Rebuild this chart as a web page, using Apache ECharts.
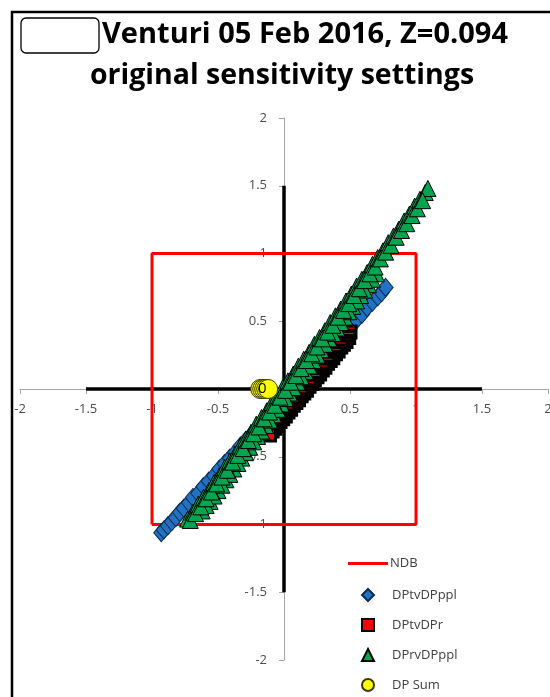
<!DOCTYPE html>
<html>
<head>
<meta charset="utf-8">
<title>Venturi 05 Feb 2016</title>
<script src="https://cdn.jsdelivr.net/npm/echarts@6/dist/echarts.min.js"></script>
<style>
  html, body { margin: 0; padding: 0; background: #fff; }
  #chart { width: 550px; height: 697px; }
</style>
</head>
<body>
<div id="chart"></div>
<script>
// NDB box and the black cross
const ndbX = [-1, 1, 1, -1, -1]
const ndbY = [-1, -1, 1, 1, -1]
const crossHX = [-1.5, 1.5]
const crossHY = [0, 0]
const crossVX = [0, 0]
const crossVY = [-1.5, 1.5]

// DPtvDPppl (blue diamonds)
const blueX = [-0.93, -0.91, -0.88, -0.85, -0.82, -0.79, -0.76, -0.72, -0.69, -0.65, -0.61, -0.57, -0.53, -0.49, -0.45, -0.41,
  -0.37, -0.33, -0.29, -0.25, -0.21, -0.17, -0.13, -0.09, -0.05, -0.01, 0.03, 0.07, 0.11, 0.15, 0.19, 0.23,
  0.27, 0.31, 0.35, 0.39, 0.43, 0.47, 0.51, 0.55, 0.59, 0.63, 0.67, 0.71, 0.74, 0.77]
const blueY = [-1.06, -1.04, -1.01, -0.98, -0.95, -0.91, -0.88, -0.84, -0.80, -0.77, -0.72, -0.68, -0.64, -0.59, -0.55, -0.51,
  -0.47, -0.42, -0.38, -0.34, -0.30, -0.25, -0.21, -0.17, -0.13, -0.08, -0.04, 0.00, 0.04, 0.09, 0.13, 0.17,
  0.21, 0.26, 0.30, 0.34, 0.38, 0.43, 0.47, 0.51, 0.55, 0.60, 0.64, 0.68, 0.71, 0.75]

// DPtvDPr (red squares), two runs
const redX = [0.50, 0.48, 0.46, 0.44, 0.42, 0.40, 0.38, 0.36, 0.34, 0.32, 0.30, 0.28, 0.26, 0.24, 0.22, 0.20,
  0.18, 0.16, 0.14, 0.12, 0.10, 0.08, 0.06, 0.04, 0.02, 0.00, -0.02, -0.04, -0.06, -0.08, -0.10, -0.12]
const redY = [0.42, 0.39, 0.37, 0.35, 0.32, 0.30, 0.28, 0.25, 0.23, 0.20, 0.18, 0.16, 0.13, 0.11, 0.09, 0.06,
  0.04, 0.01, -0.01, -0.03, -0.06, -0.08, -0.11, -0.13, -0.15, -0.18, -0.20, -0.23, -0.25, -0.27, -0.30, -0.32]
const redX2 = [0.49, 0.47, 0.45, 0.43, 0.41, 0.39, 0.37, 0.35, 0.33, 0.31, 0.29, 0.27, 0.25, 0.23, 0.21, 0.19,
  0.17, 0.15, 0.13, 0.11, 0.09, 0.07, 0.05, 0.03, 0.01, -0.01, -0.03, -0.05, -0.07, -0.09, -0.11]
const redY2 = [0.38, 0.35, 0.33, 0.31, 0.28, 0.26, 0.23, 0.21, 0.19, 0.16, 0.14, 0.11, 0.09, 0.07, 0.04, 0.02,
  -0.01, -0.03, -0.05, -0.08, -0.10, -0.12, -0.15, -0.17, -0.20, -0.22, -0.24, -0.27, -0.29, -0.31, -0.34]

// DPrvDPppl (green triangles), four runs
const greenX1 = [-0.62, -0.56, -0.50, -0.44, -0.38, -0.32, -0.26, -0.20, -0.14, -0.08, -0.02, 0.04, 0.10, 0.16, 0.22, 0.28,
  0.34, 0.40, 0.46, 0.52, 0.58, 0.64, 0.70]
const greenY1 = [-0.90, -0.83, -0.75, -0.67, -0.59, -0.51, -0.43, -0.35, -0.27, -0.19, -0.11, -0.03, 0.05, 0.13, 0.21, 0.29,
  0.37, 0.45, 0.53, 0.61, 0.69, 0.77, 0.85]
const greenX2 = [-0.59, -0.53, -0.47, -0.41, -0.35, -0.29, -0.23, -0.17, -0.11, -0.05, 0.01, 0.07, 0.13, 0.19, 0.25, 0.31,
  0.37, 0.43, 0.49, 0.55, 0.61, 0.67]
const greenY2 = [-0.86, -0.79, -0.71, -0.63, -0.55, -0.47, -0.39, -0.31, -0.23, -0.15, -0.07, 0.01, 0.09, 0.17, 0.25, 0.33,
  0.41, 0.49, 0.57, 0.65, 0.73, 0.81]
const greenX3 = [-0.73, -0.69, -0.65, -0.61, -0.57, -0.53, -0.49, -0.45, -0.41, -0.37, -0.33, -0.29, -0.25, -0.21, -0.17, -0.13,
  -0.09, -0.05, -0.01, 0.03, 0.07, 0.11, 0.15, 0.19, 0.23, 0.27, 0.31, 0.35, 0.39, 0.43, 0.47, 0.51,
  0.55, 0.59, 0.63, 0.67, 0.71, 0.75, 0.79, 0.83, 0.87, 0.91, 0.95, 0.99, 1.03, 1.07, 1.09]
const greenY3 = [-0.96, -0.91, -0.85, -0.80, -0.75, -0.69, -0.64, -0.58, -0.53, -0.48, -0.42, -0.37, -0.32, -0.26, -0.21, -0.16,
  -0.10, -0.05, 0.01, 0.06, 0.11, 0.17, 0.22, 0.27, 0.33, 0.38, 0.43, 0.49, 0.54, 0.59, 0.65, 0.70,
  0.76, 0.81, 0.86, 0.92, 0.97, 1.02, 1.08, 1.13, 1.18, 1.24, 1.29, 1.35, 1.40, 1.45, 1.48]
const greenX4 = [-0.71, -0.67, -0.63, -0.59, -0.55, -0.51, -0.47, -0.43, -0.39, -0.35, -0.31, -0.27, -0.23, -0.19, -0.15, -0.11,
  -0.07, -0.03, 0.01, 0.05, 0.09, 0.13, 0.17, 0.21, 0.25, 0.29, 0.33, 0.37, 0.41, 0.45, 0.49, 0.53,
  0.57, 0.61, 0.65, 0.69, 0.73, 0.77, 0.81, 0.85, 0.89, 0.93, 0.97, 1.01, 1.05]
const greenY4 = [-0.97, -0.92, -0.87, -0.81, -0.76, -0.70, -0.65, -0.60, -0.54, -0.49, -0.44, -0.38, -0.33, -0.28, -0.22, -0.17,
  -0.12, -0.06, -0.01, 0.05, 0.10, 0.15, 0.21, 0.26, 0.31, 0.37, 0.42, 0.47, 0.53, 0.58, 0.63, 0.69,
  0.74, 0.80, 0.85, 0.90, 0.96, 1.01, 1.06, 1.12, 1.17, 1.22, 1.28, 1.33, 1.39]

// DP Sum (yellow circles)
const sumX = [-0.18, -0.165, -0.15, -0.135, -0.12]
const sumY = [0, 0, 0, 0, 0]

const lineLegend = ['NDB']
const markerLegend = ['DPtvDPppl', 'DPtvDPr', 'DPrvDPppl', 'DP Sum']
const axisMin = -2
const axisMax = 2
const axisStep = 0.5

const pairs = (xs, ys) => xs.map((x, i) => [x, ys[i]])

// plot area (pixels)
const plot = { left: 20, right: 2, top: 118, bottom: 37 }
const plotW = 550 - plot.left - plot.right
const plotH = 697 - plot.top - plot.bottom

const chart = echarts.init(document.getElementById('chart'), null, { renderer: 'canvas' })

const axisCommon = {
  type: 'value',
  min: axisMin,
  max: axisMax,
  interval: axisStep,
  splitLine: { show: false },
  axisLine: { onZero: false, lineStyle: { color: '#a6a6a6', width: 1 } },
  axisTick: { length: 5, lineStyle: { color: '#a6a6a6' } },
  axisLabel: {
    color: '#4d4d4d',
    fontFamily: 'Open Sans',
    fontSize: 13,
    formatter: v => (v === 0 ? '' : String(v))
  }
}

const legendText = { color: '#404040', fontFamily: 'Open Sans', fontSize: 13, lineHeight: 12 }

const option = {
  animation: false,
  backgroundColor: '#fff',
  grid: Object.assign({ outerBoundsMode: 'none', containLabel: false }, plot),
  // axes crossing at 0: shift them into the middle of the plot
  xAxis: Object.assign({}, axisCommon, {
    position: 'bottom',
    offset: -plotH / 2,
    axisLabel: Object.assign({}, axisCommon.axisLabel, { margin: 14 })
  }),
  yAxis: Object.assign({}, axisCommon, {
    position: 'left',
    offset: -plotW / 2,
    axisLabel: Object.assign({}, axisCommon.axisLabel, { margin: 17 })
  }),
  legend: [
    {
      orient: 'vertical', left: 343, top: 552,
      itemWidth: 40, itemHeight: 3, icon: 'rect',
      data: lineLegend,
      textStyle: Object.assign({}, legendText, { padding: [0, 0, 0, -3] })
    },
    {
      orient: 'vertical', left: 361, top: 588, padding: 0, height: 120,
      itemWidth: 12, itemHeight: 12, itemGap: 16,
      data: markerLegend,
      textStyle: Object.assign({}, legendText, { padding: [0, 0, 0, 13] })
    }
  ],
  graphic: [
    // chart frame
    { type: 'rect', shape: { x: 12, y: 12, width: 560, height: 720 }, style: { fill: 'none', stroke: '#000', lineWidth: 2.5 }, z: 100 },
    // blank box in front of the title
    { type: 'rect', shape: { x: 21, y: 18, width: 78, height: 35, r: 5 }, style: { fill: '#fff', stroke: '#000', lineWidth: 1.3 }, z: 100 },
    { type: 'text', style: { x: 102, y: 35, text: 'Venturi 05 Feb 2016, Z=0.094', font: 'bold 29px "Open Sans"', fill: '#000', verticalAlign: 'middle' }, z: 100 },
    { type: 'text', style: { x: 282, y: 76, text: 'original sensitivity settings', font: 'bold 28.5px "Open Sans"', fill: '#000', align: 'center', verticalAlign: 'middle' }, z: 100 }
  ],
  series: [
    {
      name: 'cross-h', type: 'line', data: pairs(crossHX, crossHY), symbol: 'none',
      lineStyle: { color: '#000', width: 3.5 }, z: 1, silent: true
    },
    {
      name: 'cross-v', type: 'line', data: pairs(crossVX, crossVY), symbol: 'none',
      lineStyle: { color: '#000', width: 3.5 }, z: 1, silent: true
    },
    {
      name: 'NDB', type: 'line', data: pairs(ndbX, ndbY), symbol: 'none',
      itemStyle: { color: '#ff0000' },
      lineStyle: { color: '#ff0000', width: 3 }, z: 1
    },
    {
      name: 'DPtvDPppl', type: 'scatter', data: pairs(blueX, blueY), symbol: 'diamond', symbolSize: [15, 18],
      itemStyle: { color: '#1f72c4', borderColor: '#0d2b4d', borderWidth: 1, opacity: 1 }
    },
    {
      name: 'DPtvDPr', type: 'scatter', data: pairs(redX, redY).concat(pairs(redX2, redY2)), symbol: 'rect', symbolSize: 12,
      itemStyle: { color: '#ff0000', borderColor: '#000', borderWidth: 3, opacity: 1 }
    },
    {
      name: 'DPrvDPppl', type: 'scatter',
      data: pairs(greenX1, greenY1).concat(pairs(greenX2, greenY2), pairs(greenX3, greenY3), pairs(greenX4, greenY4)),
      symbol: 'triangle', symbolSize: 16,
      itemStyle: { color: '#00a550', borderColor: '#000', borderWidth: 1, opacity: 1 }
    },
    {
      name: 'DP Sum', type: 'scatter',
      data: pairs(sumX, sumY).map((p, i) => (i === 1 ? { value: p, label: { show: true } } : p)),
      symbol: 'circle', symbolSize: 19,
      itemStyle: { color: '#ffff00', borderColor: '#3a3a00', borderWidth: 1, opacity: 1 },
      label: {
        show: false, position: 'inside', formatter: () => '0',
        color: '#000', fontFamily: 'Open Sans', fontSize: 15
      }
    }
  ]
}

chart.setOption(option)
</script>
</body>
</html>
